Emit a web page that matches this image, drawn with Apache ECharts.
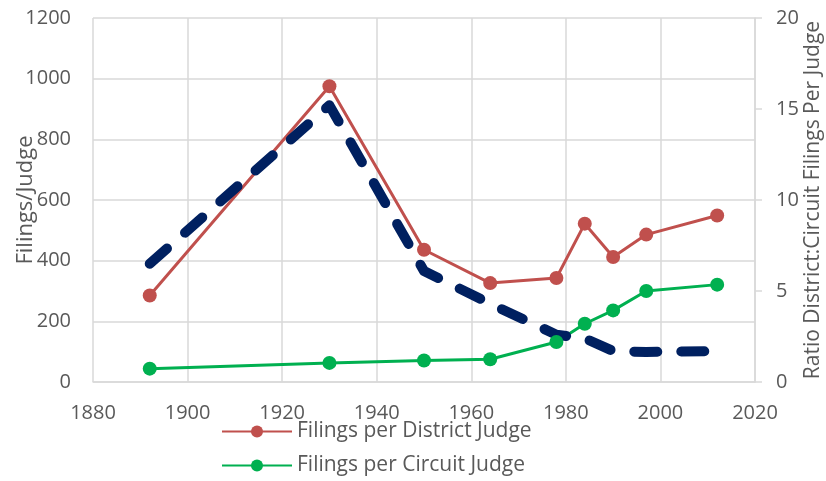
<!DOCTYPE html>
<html>
<head>
<meta charset="utf-8">
<script src="https://cdn.jsdelivr.net/npm/echarts@6/dist/echarts.min.js"></script>
<style>
  html, body { margin: 0; padding: 0; background: #fff; }
  #chart { width: 826px; height: 481px; }
</style>
</head>
<body>
<div id="chart"></div>
<script>
// years of observation
var years = [1892, 1930, 1950, 1964, 1978, 1984, 1990, 1997, 2012];
// filings per judge (left axis)
var districtFilings = [285, 975, 436, 326, 343, 522, 412, 486, 549];
var circuitFilings = [44, 63, 71, 75, 132, 192, 236, 300, 321];
// district:circuit ratio (right axis)
var ratio = [6.5, 15.2, 6.1, 4.3, 2.6, 2.4, 1.7, 1.65, 1.7];

var xTicks = [1880, 1900, 1920, 1940, 1960, 1980, 2000, 2020];
var leftTicks = [0, 200, 400, 600, 800, 1000, 1200];
var rightTicks = [0, 5, 10, 15, 20];

function pairs(xs, ys) {
  return xs.map(function (x, i) { return [x, ys[i]]; });
}
function plain(v) { return String(v); }

var textColor = '#595959';
var gridColor = '#D9D9D9';
var font = 'Open Sans';

var chart = echarts.init(document.getElementById('chart'));
chart.setOption({
  animation: false,
  textStyle: { fontFamily: font },
  grid: { left: 93, right: 71, top: 18, bottom: 99, outerBoundsMode: 'none', containLabel: false },
  legend: {
    orient: 'vertical',
    left: 221,
    top: 421,
    height: 60,
    padding: 0,
    itemWidth: 70,
    itemHeight: 15,
    itemGap: 13,
    textStyle: { color: textColor, fontSize: 21, fontFamily: font },
    data: ['Filings per District Judge', 'Filings per Circuit Judge']
  },
  xAxis: {
    type: 'value',
    min: xTicks[0],
    max: xTicks[xTicks.length - 1],
    interval: 20,
    axisLine: { show: true, lineStyle: { color: gridColor, width: 1.5 } },
    axisTick: { show: false },
    axisLabel: { color: textColor, fontSize: 20, margin: 21, formatter: plain },
    splitLine: { show: true, lineStyle: { color: gridColor, width: 1.5 } }
  },
  yAxis: [
    {
      type: 'value',
      min: leftTicks[0],
      max: leftTicks[leftTicks.length - 1],
      interval: 200,
      name: 'Filings/Judge',
      nameLocation: 'middle',
      nameRotate: 90,
      nameGap: 56,
      nameMoveOverlap: false,
      nameTextStyle: { color: textColor, fontSize: 22 },
      axisLine: { show: false },
      axisTick: { show: false },
      axisLabel: { color: textColor, fontSize: 20, margin: 22, formatter: plain },
      splitLine: { show: true, lineStyle: { color: gridColor, width: 1.5 } }
    },
    {
      type: 'value',
      position: 'right',
      min: rightTicks[0],
      max: rightTicks[rightTicks.length - 1],
      interval: 5,
      name: 'Ratio District:Circuit Filings Per Judge',
      nameLocation: 'middle',
      nameRotate: 90,
      nameGap: 48,
      nameMoveOverlap: false,
      nameTextStyle: { color: textColor, fontSize: 21 },
      axisLine: { show: true, lineStyle: { color: gridColor, width: 1.5 } },
      axisTick: { show: true, length: 7, lineStyle: { color: gridColor, width: 1.5 } },
      axisLabel: { color: textColor, fontSize: 20, margin: 21, formatter: plain },
      splitLine: { show: false }
    }
  ],
  series: [
    {
      name: 'Filings per District Judge',
      type: 'line',
      yAxisIndex: 0,
      data: pairs(years, districtFilings),
      symbol: 'circle',
      symbolSize: 14,
      itemStyle: { color: '#C0504D' },
      lineStyle: { color: '#C0504D', width: 3 }
    },
    {
      name: 'Filings per Circuit Judge',
      type: 'line',
      yAxisIndex: 0,
      data: pairs(years, circuitFilings),
      symbol: 'circle',
      symbolSize: 14,
      itemStyle: { color: '#00B050' },
      lineStyle: { color: '#00B050', width: 3 }
    },
    {
      name: 'Ratio',
      type: 'line',
      yAxisIndex: 1,
      data: pairs(years, ratio),
      symbol: 'none',
      lineStyle: { color: '#002060', width: 10, type: [23, 24], cap: 'round', join: 'round' },
      z: 3
    }
  ]
});
</script>
</body>
</html>
